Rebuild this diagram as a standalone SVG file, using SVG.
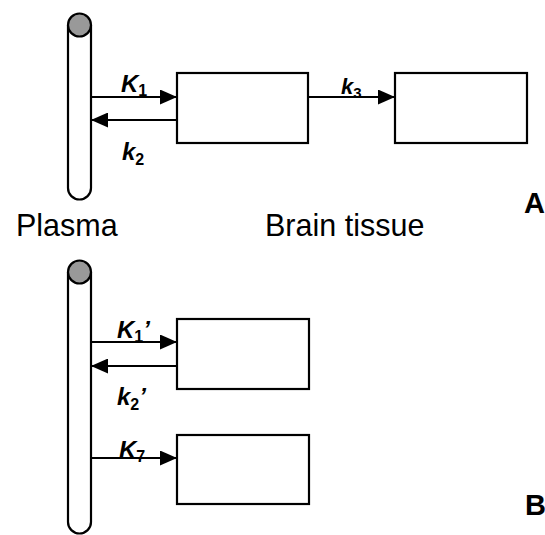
<svg xmlns="http://www.w3.org/2000/svg" width="545" height="535" viewBox="0 0 545 535">
<style>
.box{fill:#fff;stroke:#000;stroke-width:2.2}
.tube{fill:#fff;stroke:#000;stroke-width:2.2}
.cap{fill:#999;stroke:#000;stroke-width:2.2}
.arr{stroke:#000;stroke-width:2;fill:none;marker-end:url(#ah)}
.lbl{font-family:"Liberation Sans",Arial,sans-serif;font-weight:bold;font-style:italic;font-size:24px;fill:#000}
.sub{font-size:16px;font-style:normal}
.cap-t{font-family:"Liberation Sans",Arial,sans-serif;font-size:30.5px;fill:#000}
.panel{font-family:"Liberation Sans",Arial,sans-serif;font-weight:bold;font-size:29px;fill:#000}
</style>
<defs>
<marker id="ah" markerUnits="userSpaceOnUse" markerWidth="17" markerHeight="15" refX="17" refY="7.5" orient="auto">
<path d="M0,0 L17,7.5 L0,15 z" fill="#000"/>
</marker>
</defs>
<rect width="545" height="535" fill="#fff"/>
<g id="plasmaA">
<path class="tube" d="M68,25 V188 A11.5,11.5 0 0 0 91,188 V25"/>
<circle class="cap" cx="79.5" cy="25" r="11.5"/>
</g>
<g id="plasmaB">
<path class="tube" d="M68,272 V522 A11.5,11.5 0 0 0 91,522 V272"/>
<circle class="cap" cx="79.5" cy="272" r="11.5"/>
</g>
<g id="box1"><rect class="box" x="177" y="73" width="131" height="70"/></g>
<g id="box2"><rect class="box" x="395" y="73" width="132" height="70"/></g>
<g id="box3"><rect class="box" x="177" y="319" width="132" height="70"/></g>
<g id="box4"><rect class="box" x="177" y="435" width="132" height="69"/></g>
<g id="connectors">
<line class="arr" x1="91" y1="97" x2="177" y2="97"/>
<line class="arr" x1="177" y1="120" x2="91" y2="120"/>
<line class="arr" x1="308" y1="97" x2="395" y2="97"/>
<line class="arr" x1="91" y1="342" x2="177" y2="342"/>
<line class="arr" x1="177" y1="366" x2="91" y2="366"/>
<line class="arr" x1="91" y1="458" x2="177" y2="458"/>
</g>
<g id="labels">
<text class="lbl" x="121" y="92">K<tspan class="sub" dy="4">1</tspan></text>
<text class="lbl" x="122" y="160">k<tspan class="sub" dy="5">2</tspan></text>
<text class="lbl" x="341" y="94" style="font-size:22px">k<tspan class="sub" dy="4" style="font-size:15px">3</tspan></text>
<text class="lbl" x="117" y="338">K<tspan class="sub" dy="4">1</tspan><tspan dy="-4">’</tspan></text>
<text class="lbl" x="117" y="405">k<tspan class="sub" dy="5">2</tspan><tspan dy="-5">’</tspan></text>
<text class="lbl" x="119" y="458">K<tspan class="sub" dy="4">7</tspan></text>
<text class="cap-t" x="16" y="236">Plasma</text>
<text class="cap-t" x="265" y="236">Brain tissue</text>
<text class="panel" x="524" y="213">A</text>
<text class="panel" x="525" y="515">B</text>
</g>
</svg>
